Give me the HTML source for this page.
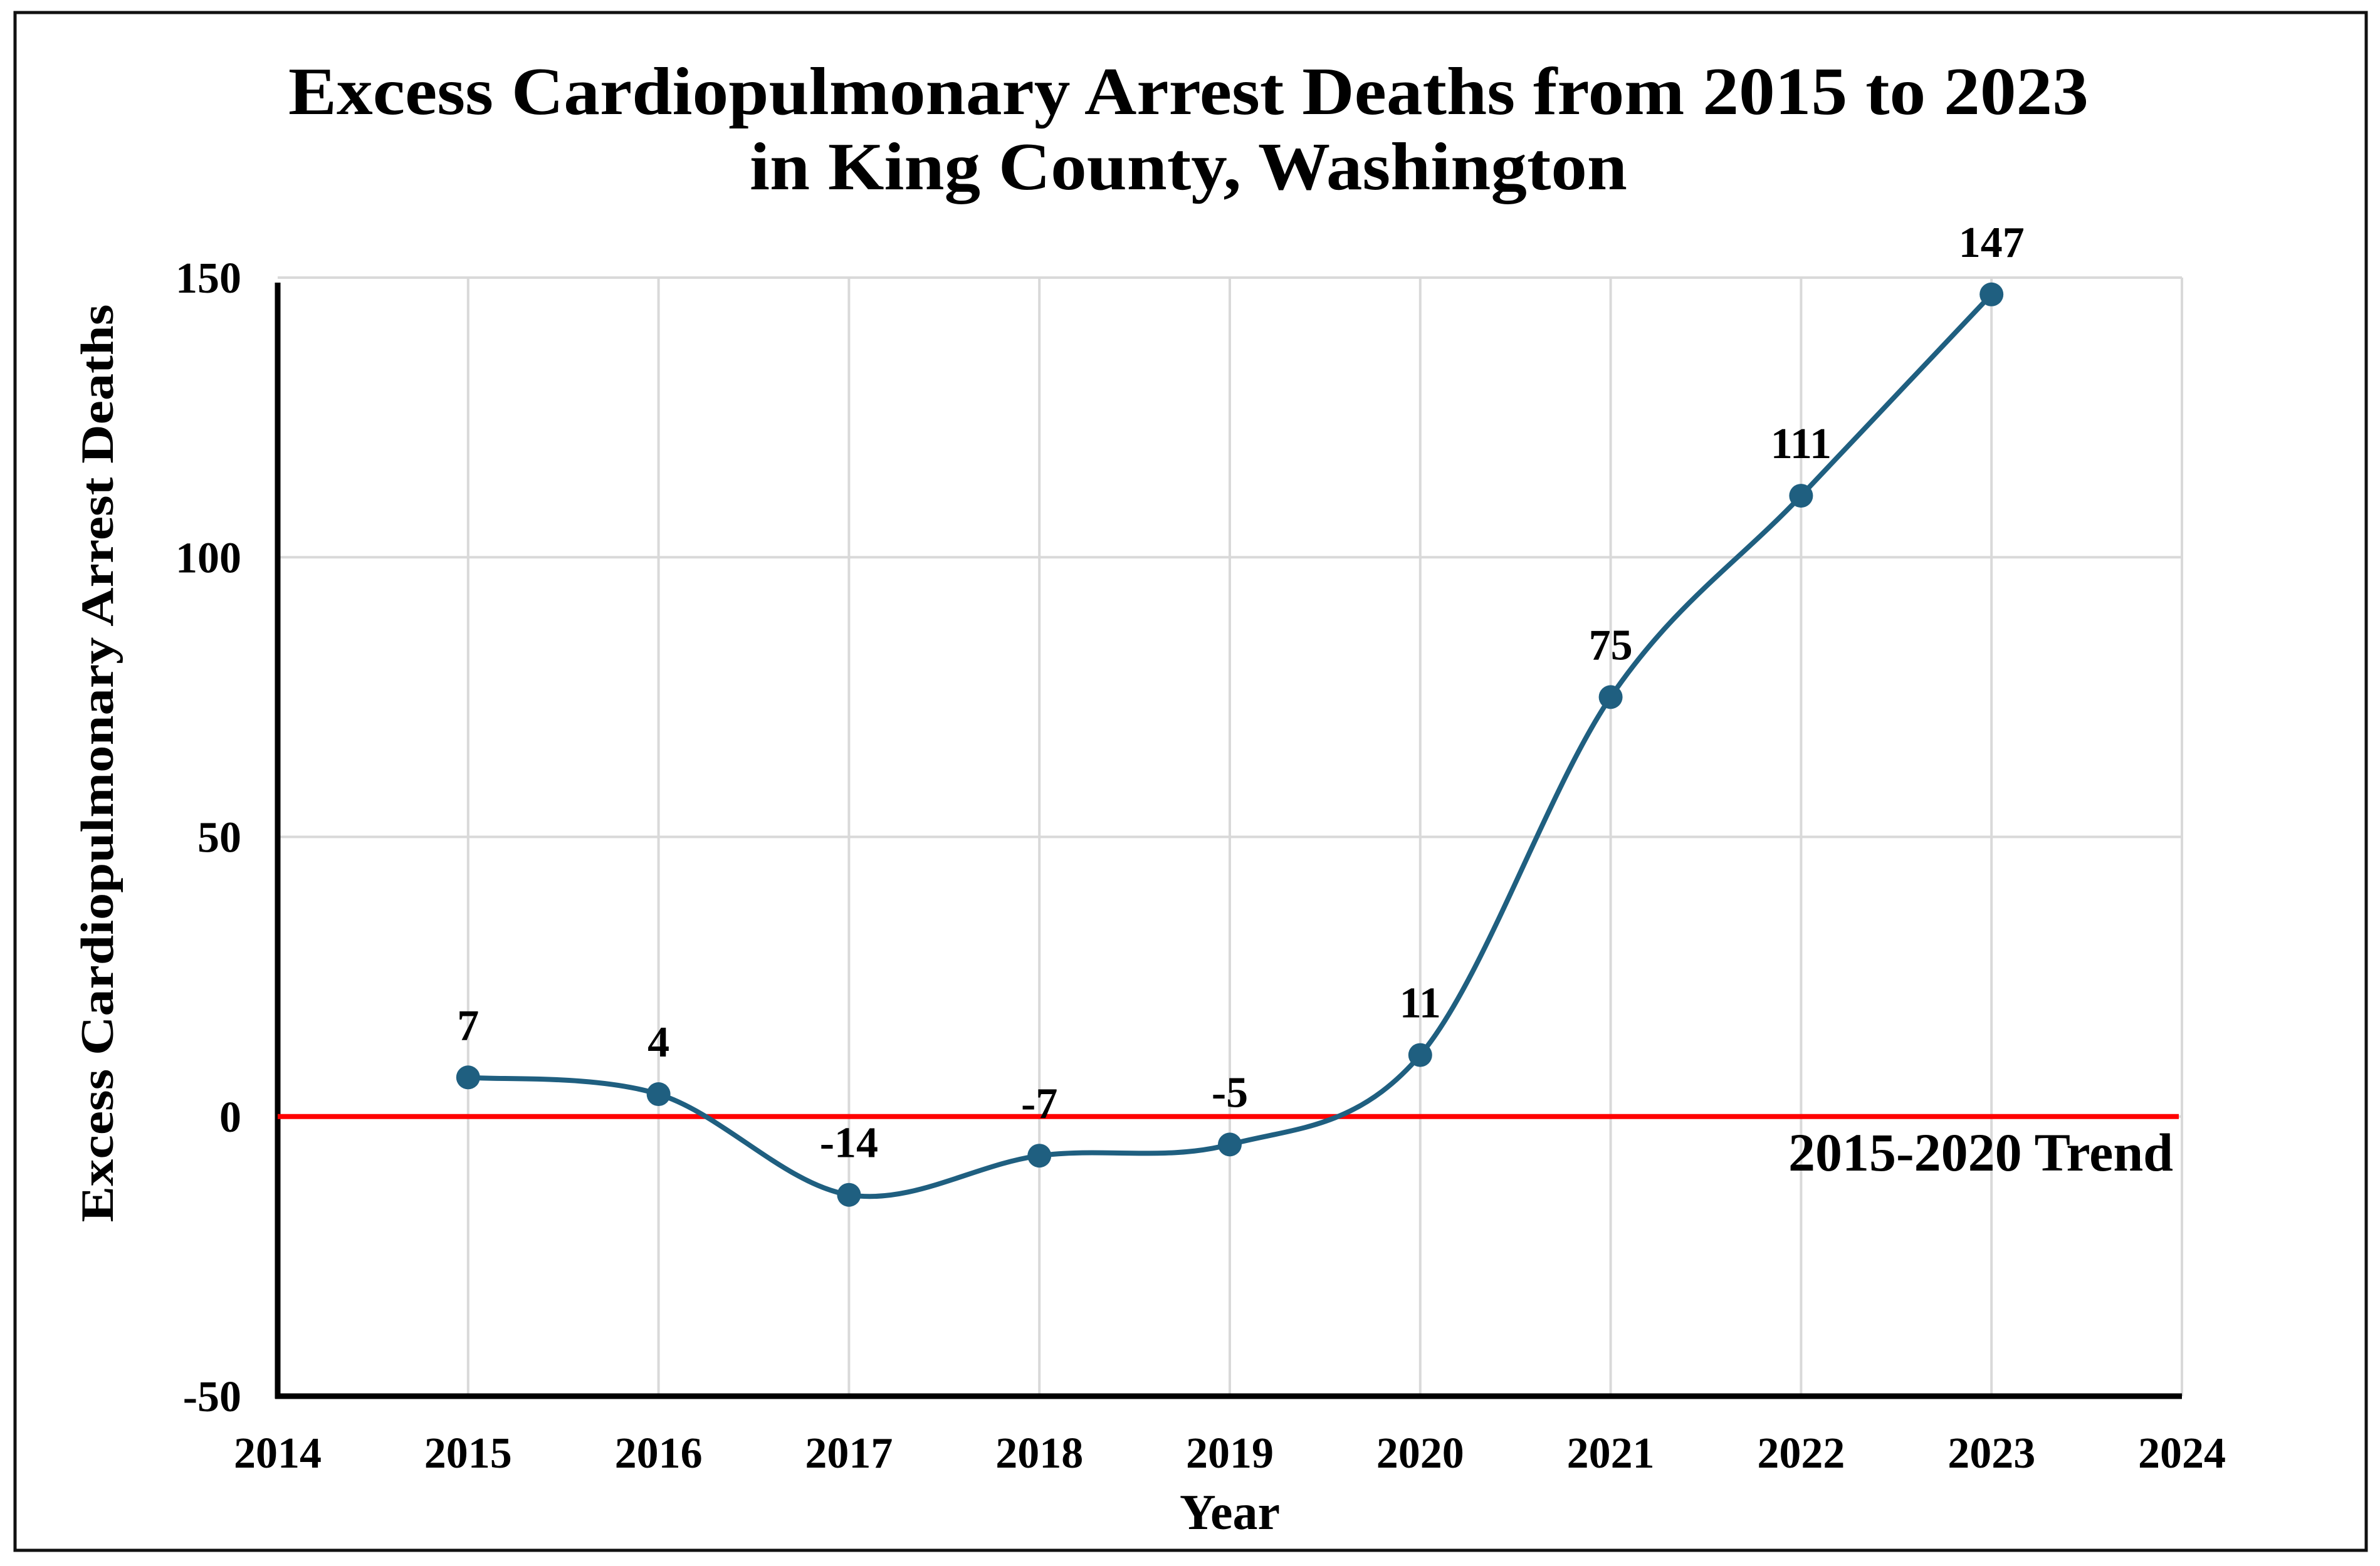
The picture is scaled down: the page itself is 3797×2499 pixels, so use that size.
<!DOCTYPE html>
<html><head><meta charset="utf-8">
<style>
html,body{margin:0;padding:0;background:#fff;}
svg{display:block;font-family:"Liberation Serif",serif;font-weight:bold;}
</style></head>
<body>
<svg id="chart" width="3797" height="2499" viewBox="0 0 3797 2499" xmlns="http://www.w3.org/2000/svg">
<rect x="24" y="20" width="3751" height="2454" fill="#fff" stroke="#111" stroke-width="5"/>
<text x="1896" y="182" text-anchor="middle" font-size="108" textLength="2872" lengthAdjust="spacingAndGlyphs">Excess Cardiopulmonary Arrest Deaths from 2015 to 2023</text>
<text x="1896" y="302" text-anchor="middle" font-size="108" textLength="1400" lengthAdjust="spacingAndGlyphs">in King County, Washington</text>
<g id="grid"></g>
<g id="axes"></g>
<g id="plot"></g>
<text transform="translate(180,1218) rotate(-90)" text-anchor="middle" font-size="74" textLength="1465" lengthAdjust="spacingAndGlyphs">Excess Cardiopulmonary Arrest Deaths</text>
<text x="1962" y="2440" text-anchor="middle" font-size="80">Year</text>
</svg>
<script>
const years = [2015,2016,2017,2018,2019,2020,2021,2022,2023];
const deaths = [7,4,-14,-7,-5,11,75,111,147];
const xTicks = [2014,2015,2016,2017,2018,2019,2020,2021,2022,2023,2024];
const yTicks = [-50,0,50,100,150];
const trendValue = [0];
const trendLabel = ["2015-2020 Trend"];

const X0=443, X1=3481, Y0=2228, Y1=443;
const xMin=2014, xMax=2024, yMin=-50, yMax=150;
function xs(v){return X0+(v-xMin)/(xMax-xMin)*(X1-X0);}
function ys(v){return Y0-(v-yMin)/(yMax-yMin)*(Y0-Y1);}
const NS="http://www.w3.org/2000/svg";
function mk(tag,attrs,parent){const e=document.createElementNS(NS,tag);for(const k in attrs)e.setAttribute(k,attrs[k]);parent.appendChild(e);return e;}
const grid=document.getElementById('grid'), axes=document.getElementById('axes'), plot=document.getElementById('plot');

yTicks.forEach(t=>{
  if(t!==yMin){
    const l=mk('line',{x1:X0,x2:X1,y1:ys(t),y2:ys(t),stroke:'#d9d9d9','stroke-width':4},grid);
    
    
  }
  const tx=mk('text',{x:385,y:ys(t)+24,'text-anchor':'end','font-size':70},axes);
  tx.textContent=t;
  
  
});
xTicks.forEach(t=>{
  if(t!==xMin){
    const l=mk('line',{x1:xs(t),x2:xs(t),y1:Y1,y2:Y0,stroke:'#d9d9d9','stroke-width':4},grid);
    
    
  }
  const tx=mk('text',{x:xs(t),y:2342,'text-anchor':'middle','font-size':70},axes);
  tx.textContent=t;
  
  
});
const ya=mk('line',{x1:X0,x2:X0,y1:Y1+8,y2:Y0+4,stroke:'#000','stroke-width':9},axes);


const xa=mk('line',{x1:X0-4,x2:X1,y1:Y0,y2:Y0,stroke:'#000','stroke-width':9},axes);



const tl=mk('line',{x1:X0,x2:X1-5,y1:ys(trendValue[0]),y2:ys(trendValue[0]),stroke:'#ff0000','stroke-width':8},plot);


const tt=mk('text',{x:X1-14,y:ys(trendValue[0])+86,'text-anchor':'end','font-size':86},plot);
tt.textContent=trendLabel[0];



const P=years.map((y,i)=>[xs(y),ys(deaths[i])]);
let d=`M${P[0][0]},${P[0][1]}`;
for(let i=0;i<P.length-1;i++){
  const p0=P[i-1]||P[i], p1=P[i], p2=P[i+1], p3=P[i+2]||P[i+1];
  const c1=[p1[0]+(p2[0]-p0[0])/6, p1[1]+(p2[1]-p0[1])/6];
  const c2=[p2[0]-(p3[0]-p1[0])/6, p2[1]-(p3[1]-p1[1])/6];
  d+=` C${c1[0]},${c1[1]} ${c2[0]},${c2[1]} ${p2[0]},${p2[1]}`;
}
const path=mk('path',{d:d,fill:'none',stroke:'#1f5f80','stroke-width':8},plot);



years.forEach((y,i)=>{
  const c=mk('circle',{cx:xs(y),cy:ys(deaths[i]),r:19,fill:'#1f5f80'},plot);
  
  
  const t=mk('text',{x:xs(y),y:ys(deaths[i])-60,'text-anchor':'middle','font-size':70},plot);
  t.textContent=deaths[i];
  
  
});
</script>
</body></html>
